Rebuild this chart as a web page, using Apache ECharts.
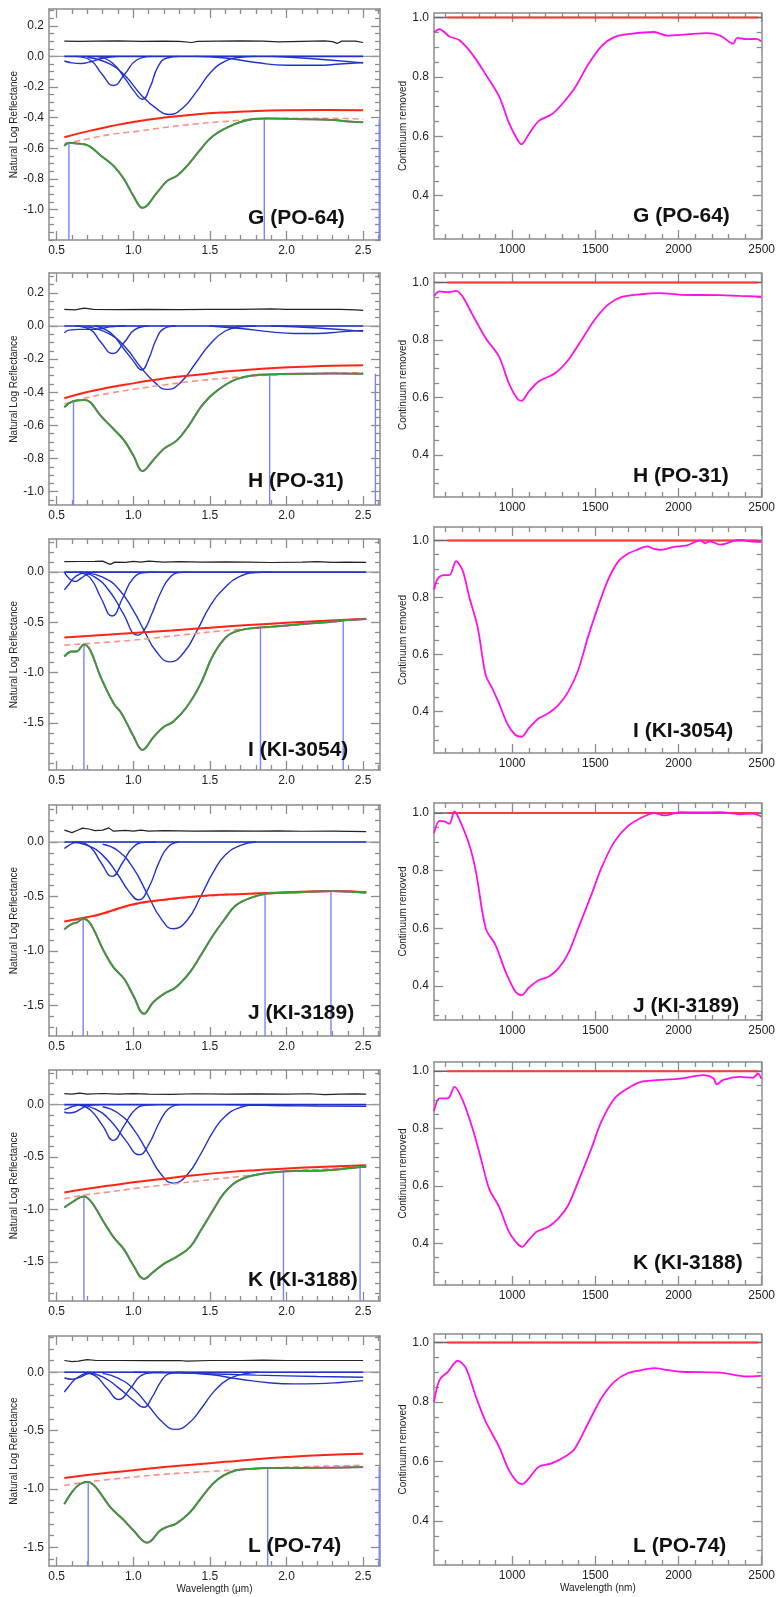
<!DOCTYPE html>
<html>
<head>
<meta charset="utf-8">
<script src="https://cdn.jsdelivr.net/npm/echarts@6/dist/echarts.min.js"></script>
<style>
html, body { margin: 0; padding: 0; background: #fff; }
#chart { width: 778px; height: 1597px; }
</style>
</head>
<body>
<div id="chart"></div>
<script>
var FONT = 'Liberation Sans, Arial, sans-serif';

// panel labels
var panelLabels = ['G (PO-64)', 'H (PO-31)', 'I (KI-3054)', 'J (KI-3189)', 'K (KI-3188)', 'L (PO-74)'];

// tick labels
var leftXTicks = [0.5, 1.0, 1.5, 2.0, 2.5];
var leftYTicksFine = [0.2, 0.0, -0.2, -0.4, -0.6, -0.8, -1.0];
var leftYTicksCoarse = [0.0, -0.5, -1.0, -1.5];
var rightXTicks = [1000, 1500, 2000, 2500];
var rightYTicks = [0.4, 0.6, 0.8, 1.0];

// ---- G (PO-64)
var gBlack = [[0.55,0.1],[0.65,0.099],[0.75,0.1],[0.9,0.101],[1.05,0.099],[1.2,0.1],[1.3,0.098],[1.38,0.091],[1.42,0.098],[1.55,0.1],[1.7,0.101],[1.85,0.1],[1.95,0.095],[2.1,0.098],[2.25,0.101],[2.3,0.097],[2.33,0.085],[2.36,0.1],[2.45,0.1],[2.5,0.091]];
var gBands = [
  [[0.55,-0.03],[0.6,-0.042],[0.66,-0.046],[0.72,-0.035],[0.8,-0.012],[0.9,0]],
  [[0.62,0],[0.72,-0.025],[0.795,-0.115],[0.87,-0.19],[0.945,-0.115],[1.02,-0.025],[1.12,0]],
  [[0.76,0],[0.86,-0.04],[0.95,-0.15],[1.0,-0.22],[1.06,-0.28],[1.11,-0.2],[1.16,-0.07],[1.22,-0.01],[1.3,0]],
  [[0.7,-0.005],[0.85,-0.05],[0.95,-0.13],[1.05,-0.25],[1.15,-0.34],[1.23,-0.38],[1.32,-0.34],[1.42,-0.22],[1.5,-0.11],[1.6,-0.03],[1.7,-0.005],[1.8,0]],
  [[1.4,0],[1.6,-0.01],[1.8,-0.04],[2.0,-0.058],[2.2,-0.058],[2.35,-0.05],[2.5,-0.04]],
  [[1.9,0],[2.1,-0.01],[2.3,-0.025],[2.5,-0.042]]
];
var gCont = [[0.55,-0.528],[0.7,-0.49],[0.85,-0.457],[1.0,-0.428],[1.2,-0.4],[1.4,-0.38],[1.6,-0.366],[1.8,-0.357],[2.0,-0.352],[2.25,-0.35],[2.5,-0.352]];
var gContLow = [[0.55,-0.57],[0.7,-0.54],[0.85,-0.51],[1.0,-0.493],[1.2,-0.465],[1.4,-0.442],[1.6,-0.425],[1.85,-0.407],[2.1,-0.405],[2.3,-0.405],[2.5,-0.41]];
var gFit = [[0.55,-0.585],[0.58,-0.565],[0.62,-0.568],[0.7,-0.58],[0.79,-0.65],[0.873,-0.717],[0.938,-0.8],[1.0,-0.91],[1.06,-0.99],[1.155,-0.89],[1.22,-0.815],[1.285,-0.78],[1.35,-0.717],[1.437,-0.61],[1.52,-0.52],[1.654,-0.446],[1.784,-0.409],[1.87,-0.405],[2.09,-0.41],[2.3,-0.415],[2.4,-0.425],[2.5,-0.43]];
var gTies = [[0.58,-0.565],[1.855,-0.405],[2.605,-0.41]];

// ---- H (PO-31)
var hBlack = [[0.55,0.1],[0.62,0.097],[0.68,0.108],[0.74,0.1],[0.9,0.099],[1.1,0.1],[1.3,0.099],[1.5,0.1],[1.7,0.1],[1.9,0.104],[2.0,0.1],[2.2,0.1],[2.35,0.101],[2.45,0.098],[2.5,0.094]];
var hBands = [
  [[0.55,-0.04],[0.58,-0.025],[0.65,-0.02],[0.75,-0.02],[0.85,-0.005],[0.95,0]],
  [[0.62,0],[0.72,-0.022],[0.79,-0.1],[0.865,-0.166],[0.94,-0.1],[1.01,-0.022],[1.1,0]],
  [[0.75,0],[0.85,-0.04],[0.94,-0.14],[1.0,-0.21],[1.055,-0.265],[1.1,-0.2],[1.15,-0.08],[1.2,-0.015],[1.28,0]],
  [[0.7,-0.005],[0.85,-0.05],[0.95,-0.13],[1.05,-0.25],[1.14,-0.34],[1.22,-0.382],[1.31,-0.34],[1.41,-0.22],[1.5,-0.11],[1.6,-0.03],[1.7,-0.005],[1.8,0]],
  [[1.5,0],[1.7,-0.015],[1.9,-0.035],[2.05,-0.045],[2.2,-0.045],[2.35,-0.035],[2.5,-0.026]],
  [[1.9,0],[2.2,-0.012],[2.5,-0.032]]
];
var hCont = [[0.55,-0.436],[0.7,-0.398],[0.85,-0.37],[1.0,-0.346],[1.2,-0.316],[1.437,-0.292],[1.6,-0.275],[1.87,-0.256],[2.1,-0.246],[2.3,-0.239],[2.5,-0.236]];
var hContLow = [[0.55,-0.47],[0.7,-0.432],[0.85,-0.405],[1.0,-0.382],[1.2,-0.356],[1.4,-0.332],[1.6,-0.315],[1.88,-0.296],[2.1,-0.29],[2.3,-0.285],[2.5,-0.282]];
var hFit = [[0.55,-0.49],[0.6,-0.456],[0.68,-0.446],[0.72,-0.46],[0.786,-0.54],[0.87,-0.62],[0.94,-0.69],[1.0,-0.78],[1.06,-0.875],[1.13,-0.81],[1.2,-0.74],[1.285,-0.69],[1.37,-0.59],[1.44,-0.49],[1.52,-0.41],[1.65,-0.33],[1.78,-0.298],[1.89,-0.292],[2.1,-0.288],[2.3,-0.286],[2.5,-0.288]];
var hTies = [[0.61,-0.455],[1.89,-0.292],[2.58,-0.288]];

// ---- I (KI-3054)
var iBlack = [[0.55,0.105],[0.65,0.106],[0.75,0.107],[0.8,0.11],[0.83,0.09],[0.85,0.077],[0.88,0.1],[0.95,0.098],[1.0,0.108],[1.05,0.1],[1.1,0.11],[1.2,0.1],[1.3,0.105],[1.45,0.1],[1.6,0.103],[1.75,0.1],[1.9,0.096],[2.1,0.1],[2.2,0.105],[2.3,0.098],[2.4,0.1],[2.52,0.097]];
var iBands = [
  [[0.55,-0.177],[0.58,-0.12],[0.61,-0.06],[0.65,-0.02],[0.7,0]],
  [[0.55,0],[0.58,-0.06],[0.62,-0.093],[0.66,-0.06],[0.7,-0.02],[0.75,0]],
  [[0.65,-0.005],[0.72,-0.06],[0.79,-0.26],[0.862,-0.437],[0.93,-0.26],[1.0,-0.06],[1.08,-0.005],[1.15,0]],
  [[0.65,0],[0.75,-0.05],[0.85,-0.2],[0.93,-0.4],[1.03,-0.627],[1.07,-0.58],[1.12,-0.42],[1.18,-0.2],[1.24,-0.05],[1.3,-0.005],[1.36,0]],
  [[0.7,-0.01],[0.8,-0.05],[0.9,-0.16],[1.0,-0.38],[1.07,-0.58],[1.15,-0.79],[1.24,-0.893],[1.33,-0.8],[1.42,-0.57],[1.5,-0.34],[1.6,-0.15],[1.7,-0.04],[1.8,-0.005],[1.9,0]]
];
var iCont = [[0.55,-0.65],[0.8,-0.625],[1.0,-0.605],[1.25,-0.58],[1.5,-0.553],[1.75,-0.527],[2.0,-0.505],[2.25,-0.485],[2.52,-0.463]];
var iContLow = [[0.55,-0.727],[0.67,-0.715],[0.85,-0.695],[1.0,-0.677],[1.2,-0.645],[1.4,-0.612],[1.6,-0.582],[1.83,-0.555],[2.0,-0.535],[2.2,-0.505],[2.37,-0.48],[2.52,-0.468]];
var iFit = [[0.55,-0.84],[0.6,-0.79],[0.63,-0.79],[0.678,-0.72],[0.72,-0.78],[0.786,-1.04],[0.873,-1.31],[0.916,-1.39],[0.96,-1.51],[1.0,-1.63],[1.06,-1.77],[1.133,-1.64],[1.2,-1.54],[1.26,-1.49],[1.35,-1.34],[1.44,-1.11],[1.52,-0.83],[1.61,-0.64],[1.7,-0.577],[1.83,-0.55],[1.9,-0.543],[2.1,-0.517],[2.3,-0.493],[2.4,-0.477],[2.52,-0.467]];
var iTies = [[0.678,-0.72],[1.83,-0.555],[2.37,-0.48]];

// ---- J (KI-3189)
var jBlack = [[0.55,0.11],[0.6,0.086],[0.64,0.11],[0.67,0.128],[0.71,0.12],[0.75,0.105],[0.8,0.11],[0.84,0.13],[0.87,0.1],[0.95,0.108],[1.0,0.1],[1.05,0.11],[1.1,0.1],[1.2,0.105],[1.4,0.1],[1.6,0.102],[1.8,0.1],[1.95,0.102],[2.1,0.099],[2.3,0.1],[2.52,0.096]];
var jBands = [
  [[0.55,-0.06],[0.58,-0.03],[0.62,-0.005],[0.66,0]],
  [[0.65,-0.003],[0.72,-0.045],[0.79,-0.19],[0.862,-0.315],[0.93,-0.19],[1.0,-0.045],[1.08,-0.003],[1.15,0]],
  [[0.6,0],[0.7,-0.03],[0.8,-0.12],[0.9,-0.3],[0.97,-0.45],[1.035,-0.53],[1.1,-0.42],[1.17,-0.18],[1.23,-0.04],[1.3,0]],
  [[0.8,-0.02],[0.9,-0.08],[1.0,-0.24],[1.1,-0.5],[1.18,-0.7],[1.26,-0.796],[1.35,-0.72],[1.44,-0.5],[1.52,-0.28],[1.6,-0.12],[1.7,-0.03],[1.8,0]]
];
var jCont = [[0.55,-0.728],[0.67,-0.697],[0.8,-0.655],[1.0,-0.57],[1.2,-0.53],[1.4,-0.5],[1.6,-0.482],[1.87,-0.468],[2.1,-0.455],[2.3,-0.45],[2.52,-0.46]];
var jContLow = [[0.55,-0.734],[0.67,-0.704],[0.8,-0.662],[1.0,-0.578],[1.2,-0.536],[1.4,-0.505],[1.6,-0.486],[1.87,-0.472],[2.1,-0.458],[2.3,-0.452],[2.52,-0.462]];
var jFit = [[0.55,-0.8],[0.6,-0.75],[0.63,-0.74],[0.673,-0.704],[0.71,-0.73],[0.75,-0.826],[0.8,-0.98],[0.87,-1.148],[0.94,-1.255],[1.0,-1.408],[1.07,-1.576],[1.13,-1.47],[1.2,-1.393],[1.28,-1.33],[1.37,-1.194],[1.44,-1.04],[1.52,-0.857],[1.59,-0.72],[1.67,-0.58],[1.78,-0.505],[1.87,-0.474],[2.1,-0.46],[2.3,-0.45],[2.52,-0.465]];
var jTies = [[0.673,-0.704],[1.86,-0.472],[2.29,-0.45]];

// ---- K (KI-3188)
var kBlack = [[0.55,0.105],[0.6,0.1],[0.65,0.11],[0.7,0.1],[0.8,0.106],[0.9,0.1],[1.0,0.105],[1.1,0.1],[1.25,0.098],[1.4,0.104],[1.6,0.1],[1.8,0.103],[2.0,0.1],[2.15,0.104],[2.25,0.096],[2.35,0.1],[2.45,0.102],[2.52,0.1]];
var kBands = [
  [[0.55,-0.07],[0.58,-0.08],[0.62,-0.07],[0.67,-0.03],[0.72,-0.005],[0.78,0]],
  [[0.55,-0.048],[0.58,-0.03],[0.62,-0.01],[0.66,0]],
  [[0.65,-0.003],[0.72,-0.05],[0.8,-0.2],[0.869,-0.34],[0.94,-0.2],[1.01,-0.05],[1.09,-0.003],[1.15,0]],
  [[0.65,0],[0.75,-0.04],[0.85,-0.15],[0.95,-0.34],[1.04,-0.477],[1.1,-0.38],[1.17,-0.17],[1.23,-0.04],[1.3,0]],
  [[0.8,-0.02],[0.9,-0.08],[1.0,-0.23],[1.1,-0.47],[1.18,-0.66],[1.26,-0.747],[1.35,-0.67],[1.44,-0.47],[1.52,-0.26],[1.6,-0.11],[1.7,-0.025],[1.8,0]],
  [[1.6,0],[1.8,-0.005],[2.0,-0.01],[2.2,-0.013],[2.52,-0.016]]
];
var kCont = [[0.55,-0.836],[0.7,-0.8],[0.85,-0.77],[1.0,-0.74],[1.2,-0.705],[1.4,-0.672],[1.6,-0.645],[1.8,-0.624],[2.0,-0.607],[2.25,-0.592],[2.52,-0.578]];
var kContLow = [[0.55,-0.896],[0.67,-0.864],[0.85,-0.83],[1.0,-0.8],[1.2,-0.765],[1.5,-0.715],[1.75,-0.675],[1.98,-0.636],[2.25,-0.614],[2.48,-0.594],[2.52,-0.592]];
var kFit = [[0.55,-0.98],[0.6,-0.93],[0.678,-0.874],[0.71,-0.9],[0.75,-0.976],[0.8,-1.1],[0.87,-1.26],[0.94,-1.38],[1.0,-1.53],[1.07,-1.66],[1.13,-1.595],[1.2,-1.516],[1.28,-1.452],[1.37,-1.357],[1.44,-1.198],[1.52,-1.007],[1.59,-0.848],[1.67,-0.737],[1.78,-0.674],[1.98,-0.636],[2.25,-0.626],[2.48,-0.594],[2.52,-0.592]];
var kTies = [[0.678,-0.874],[1.98,-0.636],[2.48,-0.594]];

// ---- L (PO-74)
var lBlack = [[0.55,0.1],[0.6,0.09],[0.64,0.095],[0.7,0.108],[0.76,0.1],[0.9,0.1],[1.1,0.099],[1.3,0.1],[1.35,0.095],[1.5,0.1],[1.7,0.1],[1.85,0.104],[2.0,0.1],[2.2,0.1],[2.4,0.1],[2.5,0.1]];
var lBands = [
  [[0.55,-0.17],[0.58,-0.12],[0.62,-0.06],[0.67,-0.02],[0.72,0]],
  [[0.55,-0.05],[0.6,-0.06],[0.65,-0.045],[0.7,-0.015],[0.75,0]],
  [[0.67,-0.003],[0.75,-0.03],[0.83,-0.14],[0.905,-0.234],[0.98,-0.14],[1.05,-0.03],[1.13,-0.003],[1.2,0]],
  [[0.7,0],[0.8,-0.04],[0.9,-0.13],[1.0,-0.24],[1.07,-0.3],[1.12,-0.22],[1.18,-0.08],[1.23,-0.015],[1.3,0]],
  [[0.8,-0.01],[0.9,-0.05],[1.0,-0.14],[1.1,-0.29],[1.2,-0.44],[1.275,-0.49],[1.36,-0.44],[1.45,-0.3],[1.53,-0.16],[1.62,-0.06],[1.72,-0.015],[1.82,0]],
  [[1.3,0],[1.5,-0.02],[1.7,-0.06],[1.9,-0.092],[2.05,-0.1],[2.2,-0.098],[2.35,-0.088],[2.5,-0.072]],
  [[1.0,0],[1.4,-0.01],[1.8,-0.025],[2.2,-0.037],[2.5,-0.043]]
];
var lCont = [[0.55,-0.907],[0.7,-0.88],[0.85,-0.86],[1.0,-0.84],[1.2,-0.812],[1.4,-0.79],[1.6,-0.768],[1.8,-0.745],[2.0,-0.727],[2.25,-0.71],[2.5,-0.699]];
var lContLow = [[0.55,-0.97],[0.7,-0.94],[0.85,-0.918],[1.0,-0.898],[1.2,-0.875],[1.5,-0.85],[1.87,-0.822],[2.1,-0.81],[2.3,-0.803],[2.5,-0.798]];
var lFit = [[0.55,-1.13],[0.6,-1.027],[0.65,-0.96],[0.706,-0.94],[0.74,-0.965],[0.78,-1.027],[0.85,-1.155],[0.94,-1.27],[1.0,-1.354],[1.09,-1.46],[1.177,-1.354],[1.22,-1.326],[1.28,-1.297],[1.37,-1.2],[1.44,-1.083],[1.52,-0.955],[1.59,-0.884],[1.67,-0.84],[1.78,-0.827],[1.87,-0.82],[2.1,-0.82],[2.3,-0.818],[2.5,-0.813]];
var lTies = [[0.706,-0.94],[1.877,-0.82],[2.605,-0.81]];

// ---- continuum removed spectra (nm, ratio)
var crG = [[530,0.95],[563,0.961],[593,0.95],[623,0.936],[683,0.923],[762,0.875],[841,0.808],[921,0.735],[980,0.646],[1030,0.59],[1056,0.573],[1100,0.607],[1159,0.651],[1238,0.674],[1298,0.707],[1377,0.763],[1456,0.841],[1536,0.903],[1615,0.934],[1714,0.945],[1853,0.951],[1933,0.939],[2052,0.943],[2171,0.947],[2250,0.939],[2310,0.916],[2329,0.912],[2353,0.931],[2409,0.927],[2468,0.928],[2498,0.92]];
var crH = [[530,0.953],[563,0.969],[623,0.966],[663,0.971],[702,0.951],[762,0.887],[841,0.806],[921,0.742],[980,0.649],[1030,0.596],[1056,0.588],[1100,0.62],[1159,0.655],[1258,0.684],[1337,0.73],[1417,0.8],[1496,0.87],[1575,0.922],[1655,0.949],[1774,0.959],[1893,0.963],[2012,0.957],[2250,0.956],[2370,0.953],[2498,0.951]];
var crI = [[530,0.827],[553,0.866],[593,0.878],[623,0.878],[663,0.927],[702,0.895],[742,0.802],[792,0.697],[841,0.528],[881,0.481],[921,0.429],[970,0.359],[1020,0.318],[1056,0.312],[1100,0.342],[1159,0.376],[1218,0.394],[1278,0.423],[1337,0.47],[1397,0.545],[1456,0.662],[1516,0.767],[1575,0.86],[1635,0.924],[1695,0.953],[1754,0.968],[1813,0.979],[1853,0.97],[1893,0.967],[1972,0.977],[2052,0.983],[2131,1.0],[2160,0.99],[2190,0.997],[2250,0.985],[2290,0.99],[2330,0.998],[2369,1.002],[2430,0.997],[2498,0.994]];
var crJ = [[530,0.93],[563,0.973],[593,0.971],[623,0.963],[653,1.006],[683,0.977],[742,0.89],[782,0.797],[841,0.6],[900,0.542],[960,0.45],[1020,0.38],[1056,0.368],[1100,0.394],[1159,0.42],[1218,0.432],[1278,0.461],[1337,0.513],[1397,0.6],[1476,0.716],[1536,0.809],[1615,0.901],[1694,0.954],[1774,0.983],[1853,1.0],[1913,0.992],[2012,1.003],[2130,1.002],[2250,1.003],[2369,0.996],[2448,0.998],[2498,0.988]];
var crK = [[530,0.861],[563,0.905],[613,0.905],[653,0.945],[702,0.899],[762,0.8],[812,0.696],[861,0.591],[921,0.528],[980,0.441],[1030,0.4],[1060,0.388],[1100,0.412],[1149,0.441],[1218,0.458],[1278,0.487],[1337,0.533],[1397,0.615],[1476,0.73],[1536,0.824],[1615,0.905],[1694,0.94],[1774,0.963],[1853,0.968],[2012,0.974],[2151,0.986],[2210,0.975],[2230,0.954],[2270,0.97],[2369,0.98],[2448,0.977],[2478,0.992],[2498,0.974]];
var crL = [[530,0.801],[563,0.874],[613,0.902],[673,0.939],[722,0.914],[782,0.818],[841,0.734],[921,0.65],[980,0.571],[1030,0.532],[1060,0.524],[1100,0.543],[1159,0.582],[1238,0.594],[1317,0.616],[1377,0.644],[1456,0.728],[1536,0.813],[1615,0.869],[1694,0.897],[1774,0.907],[1853,0.914],[1933,0.908],[2012,0.902],[2250,0.899],[2409,0.886],[2498,0.888]];

var leftData = [
  { black: gBlack, bands: gBands, cont: gCont, contLow: gContLow, fit: gFit, ties: gTies },
  { black: hBlack, bands: hBands, cont: hCont, contLow: hContLow, fit: hFit, ties: hTies },
  { black: iBlack, bands: iBands, cont: iCont, contLow: iContLow, fit: iFit, ties: iTies },
  { black: jBlack, bands: jBands, cont: jCont, contLow: jContLow, fit: jFit, ties: jTies },
  { black: kBlack, bands: kBands, cont: kCont, contLow: kContLow, fit: kFit, ties: kTies },
  { black: lBlack, bands: lBands, cont: lCont, contLow: lContLow, fit: lFit, ties: lTies }
];
var rightData = [crG, crH, crI, crJ, crK, crL];

// panel layout (px) and axis ranges
var leftLayout = [
  { top: 9, height: 231, ymin: -1.2, ymax: 0.31, fine: true },
  { top: 273, height: 232, ymin: -1.08, ymax: 0.32, fine: true },
  { top: 539, height: 231, ymin: -1.97, ymax: 0.33, fine: false },
  { top: 805, height: 231, ymin: -1.78, ymax: 0.34, fine: false },
  { top: 1070, height: 231, ymin: -1.87, ymax: 0.33, fine: false },
  { top: 1336, height: 230, ymin: -1.66, ymax: 0.31, fine: false }
];
var rightLayout = [
  { top: 13, height: 226, ymin: 0.254, ymax: 1.015 },
  { top: 273, height: 224, ymin: 0.253, ymax: 1.033 },
  { top: 527, height: 226, ymin: 0.255, ymax: 1.047 },
  { top: 803, height: 217, ymin: 0.282, ymax: 1.035 },
  { top: 1062, height: 223, ymin: 0.255, ymax: 1.032 },
  { top: 1334, height: 231, ymin: 0.252, ymax: 1.029 }
];
var labelTopL = [208, 471, 740, 1003, 1270, 1536];
var labelTopR = [206, 466, 721, 996, 1253, 1536];
var LX = { left: 49, width: 331, min: 0.45, max: 2.61 };
var RX = { left: 434, width: 331, min: 530, max: 2500 };

var AXC = '#8c8c8c';

function inRange(vals, min, max) {
  return vals.filter(function (v) { return v >= min - 1e-9 && v <= max + 1e-9; });
}
function minorTicks(min, max, step, major) {
  var out = [];
  var n0 = Math.ceil(min / step - 1e-6), n1 = Math.floor(max / step + 1e-6);
  for (var n = n0; n <= n1; n++) {
    var v = +(n * step).toFixed(4);
    var isMajor = major.some(function (m) { return Math.abs(m - v) < 1e-6; });
    if (!isMajor) out.push(v);
  }
  return out;
}

function makeAxis(gi, pos, min, max, vals, len, showLine, labelVals, fmt) {
  return {
    type: 'value', gridIndex: gi, position: pos, min: min, max: max,
    axisLine: { show: showLine, onZero: false, lineStyle: { color: AXC, width: 1.5 } },
    axisTick: { show: true, inside: true, length: len, customValues: vals, lineStyle: { color: AXC, width: 1.3 } },
    axisLabel: labelVals ? { show: true, customValues: labelVals, formatter: fmt, color: '#222', fontSize: 12, margin: 5, fontFamily: FONT } : { show: false },
    splitLine: { show: false }
  };
}

var grids = [], xAxes = [], yAxes = [], series = [], titles = [];
function fmt1(v) { return v.toFixed(1); }
function fmt0(v) { return String(Math.round(v)); }

function addPanel(gi, box, xr, xMajor, xStep, yr, yMajor, yStep, xFmt, yName, yGap, xName) {
  grids.push({ left: box.left, top: box.top, width: box.width, height: box.height, containLabel: false });
  var xMaj = inRange(xMajor, xr.min, xr.max), yMaj = inRange(yMajor, yr.min, yr.max);
  var xMin = minorTicks(xr.min, xr.max, xStep, xMaj), yMin = minorTicks(yr.min, yr.max, yStep, yMaj);
  var xa = makeAxis(gi, 'bottom', xr.min, xr.max, xMaj, 9, true, xMaj, xFmt);
  if (xName) {
    xa.name = xName; xa.nameLocation = 'middle'; xa.nameGap = 16;
    xa.nameTextStyle = { fontSize: 10, color: '#222', fontFamily: FONT };
  }
  xAxes.push(xa,
    makeAxis(gi, 'bottom', xr.min, xr.max, xMin, 5, false),
    makeAxis(gi, 'top', xr.min, xr.max, xMaj, 9, true),
    makeAxis(gi, 'top', xr.min, xr.max, xMin, 5, false));
  var ya = makeAxis(gi, 'left', yr.min, yr.max, yMaj, 9, true, yMaj, fmt1);
  ya.name = yName; ya.nameLocation = 'middle'; ya.nameGap = yGap;
  ya.nameTextStyle = { fontSize: 10, color: '#222', fontFamily: FONT };
  yAxes.push(ya,
    makeAxis(gi, 'left', yr.min, yr.max, yMin, 5, false),
    makeAxis(gi, 'right', yr.min, yr.max, yMaj, 9, true),
    makeAxis(gi, 'right', yr.min, yr.max, yMin, 5, false));
}

function line(gi, data, color, width, smooth, dash) {
  var s = {
    type: 'line', xAxisIndex: gi * 4, yAxisIndex: gi * 4, data: data,
    symbol: 'none', silent: true, animation: false,
    lineStyle: { color: color, width: width }
  };
  if (smooth) s.smooth = smooth;
  if (dash) s.lineStyle.type = dash;
  return s;
}

var BLUE = '#2233cc';

leftLayout.forEach(function (p, i) {
  var gi = i;
  var d = leftData[i];
  addPanel(gi, { left: LX.left, top: p.top, width: LX.width, height: p.height },
    LX, leftXTicks, 0.1, { min: p.ymin, max: p.ymax },
    p.fine ? leftYTicksFine : leftYTicksCoarse, p.fine ? 0.05 : 0.1,
    fmt1, 'Natural Log Reflectance', 29, i === 5 ? 'Wavelength (\u03bcm)' : null);
  series.push(line(gi, [[LX.min, 0], [LX.max, 0]], '#9a9a9a', 1.3));
  series.push(line(gi, [[0.55, 0], [d.fit[d.fit.length - 1][0], 0]], BLUE, 1.6));
  d.bands.forEach(function (b) {
    series.push(line(gi, b, BLUE, 1.4, 0.5));
  });
  series.push(line(gi, d.black, '#222', 1.2));
  d.ties.forEach(function (t) {
    series.push(line(gi, [[t[0], p.ymin], [t[0], t[1]]], '#7685ff', 1.4));
  });
  series.push(line(gi, d.contLow, '#ff8f85', 1.6, 0.5, [6, 4]));
  series.push(line(gi, d.cont, '#ff2414', 2, 0.5));
  series.push(line(gi, d.fit, '#ff22dd', 2.0, 0.4));
  series.push(line(gi, d.fit, '#28a828', 1.8, 0.4));
  titles.push({ text: panelLabels[i], left: 248, top: labelTopL[i], padding: 0,
    textStyle: { fontSize: 21, fontWeight: 'bold', color: '#111', fontFamily: FONT } });
});

rightLayout.forEach(function (p, i) {
  var gi = 6 + i;
  addPanel(gi, { left: RX.left, top: p.top, width: RX.width, height: p.height },
    RX, rightXTicks, 100, { min: p.ymin, max: p.ymax }, rightYTicks, 0.05,
    fmt0, 'Continuum removed', 25, i === 5 ? 'Wavelength (nm)' : null);
  series.push(line(gi, [[RX.min, 1], [RX.max, 1]], '#666', 1.5));
  series.push(line(gi, [[610, 1], [2480, 1]], '#ff3b3b', 2));
  series.push(line(gi, rightData[i], '#ff10e8', 1.8, 0.3));
  titles.push({ text: panelLabels[i], left: 633, top: labelTopR[i], padding: 0,
    textStyle: { fontSize: 21, fontWeight: 'bold', color: '#111', fontFamily: FONT } });
});

var chart = echarts.init(document.getElementById('chart'), null, { renderer: 'canvas' });
chart.setOption({
  animation: false,
  backgroundColor: '#fff',
  textStyle: { fontFamily: FONT },
  title: titles,
  grid: grids,
  xAxis: xAxes,
  yAxis: yAxes,
  series: series
});
</script>
</body>
</html>
